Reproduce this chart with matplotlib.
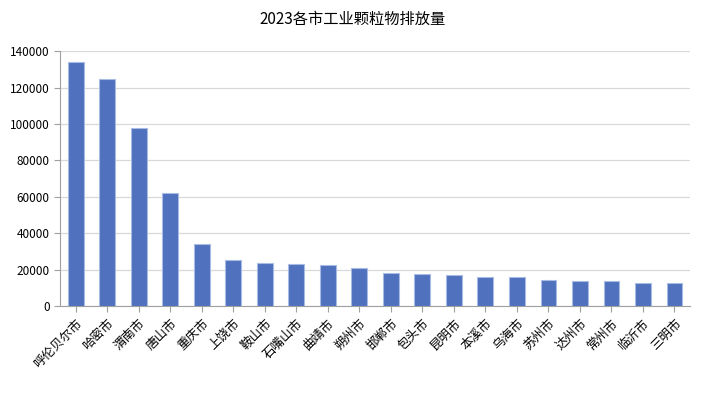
import matplotlib.pyplot as plt
import numpy as np

plt.rcParams['font.family'] = ['Noto Sans CJK SC', 'DejaVu Sans']

# 城市与排放量
cities = ['呼伦贝尔市', '哈密市', '渭南市', '唐山市', '重庆市', '上饶市', '鞍山市',
          '石嘴山市', '曲靖市', '朔州市', '邯郸市', '包头市', '昆明市', '本溪市',
          '乌海市', '苏州市', '达州市', '常州市', '临沂市', '三明市']
values = [133800, 124800, 97800, 62200, 34100, 25100, 23400,
          23100, 22600, 21100, 18400, 17800, 17250, 16000,
          15950, 14350, 13800, 13600, 12700, 12650]
yticks = [0, 20000, 40000, 60000, 80000, 100000, 120000, 140000]

fig = plt.figure(figsize=(7.05, 3.96), dpi=100)
ax = fig.add_axes([0.085, 0.227, 0.894, 0.644])

x = np.arange(len(cities))
ax.bar(x, values, width=0.5, color='#4f71be', edgecolor='#a9bbe3', linewidth=0.8, zorder=3)

ax.set_xlim(-0.5, len(cities) - 0.5)
ax.set_ylim(0, 140000)
ax.set_yticks(yticks)
ax.set_yticklabels([str(v) for v in yticks], fontsize=8.5)
ax.set_xticks(x)
ax.set_xticklabels(cities, rotation=45, ha='right', rotation_mode='anchor', fontsize=9)
ax.yaxis.grid(True, color='#d9d9d9', linewidth=0.9, zorder=0)

for s in ['top', 'right']:
    ax.spines[s].set_visible(False)
ax.spines['left'].set_color('#a0a0a0')
ax.spines['bottom'].set_color('#a0a0a0')
ax.tick_params(axis='both', colors='#a0a0a0', length=4, labelcolor='black')

fig.text(0.5, 0.95, '2023各市工业颗粒物排放量', ha='center', va='center', fontsize=11)

plt.savefig('out.png', dpi=100)
